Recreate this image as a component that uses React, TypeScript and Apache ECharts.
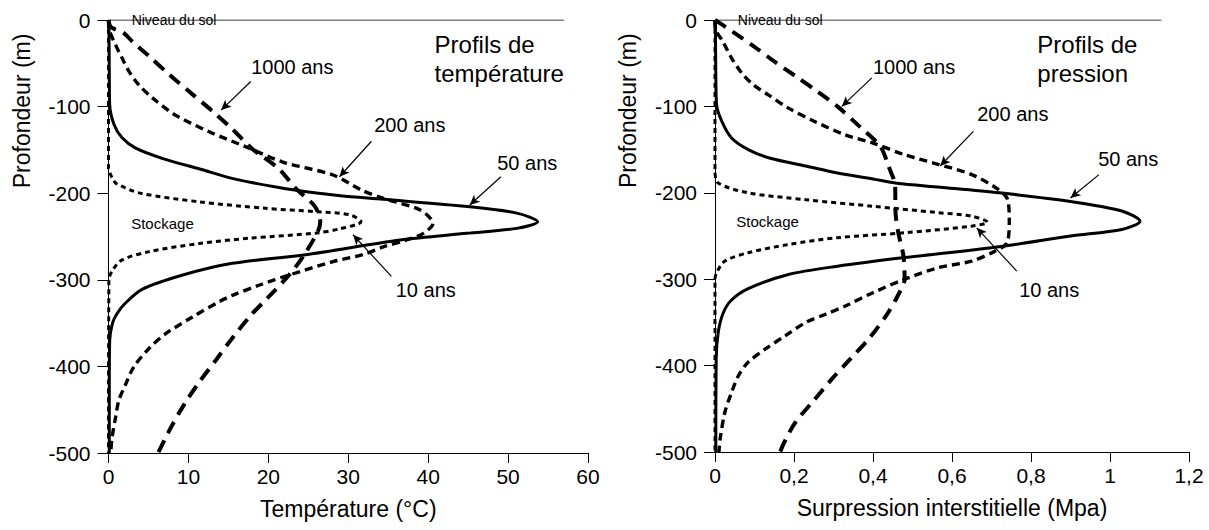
import React, { useEffect, useRef } from "react";
import * as echarts from "echarts";

// ---- Data: [value, depth (m)] ----
const temp10: number[][] = [[0,0],[0,-170],[0.5,-183],[1,-189],[4,-200],[11.4,-210],[19.7,-217.5],[26,-221.3],[30.2,-225],[31.6,-233],[29,-241],[26,-246],[17.6,-252],[11.4,-258],[5.1,-267.5],[1.7,-277],[0.5,-289],[0.05,-300],[0,-500]];
const temp50: number[][] = [[0.05,0],[0.1,-60],[0.15,-98],[0.7,-121],[1.7,-136],[3.4,-148],[6.8,-160],[11.4,-172],[16,-184],[23.7,-197],[29,-203],[34.4,-207],[45.2,-215.6],[51.1,-223],[53.7,-233],[51.1,-240.6],[44.8,-246.3],[36.5,-254],[24.7,-271],[15.5,-281],[9.3,-294.5],[4.2,-311],[2,-328],[1.0,-340],[0.5,-350],[0.15,-370],[0.1,-420],[0.1,-500]];
const temp200: number[][] = [[0,0],[0.06,-10],[0.9,-29],[1.7,-44],[2.6,-60],[3.8,-75],[5.5,-90],[8.4,-110],[12.6,-129],[17.6,-148],[21.8,-164],[28.1,-179],[31.8,-197],[34.4,-206],[39,-219.4],[40.6,-234.8],[39.4,-246.4],[37.3,-254],[34.4,-262],[31.8,-271],[28.1,-279],[22.6,-294.5],[18.9,-306],[15.5,-318],[13.9,-325],[10.5,-343],[7.2,-362],[5.1,-379],[3.2,-400],[2.2,-419.5],[1.3,-439],[0.9,-458],[0.4,-485],[0.3,-500]];
const temp1000: number[][] = [[0,0],[0.3,-8],[1.9,-15],[3,-25],[5.1,-42],[7.6,-63],[10.4,-85],[13.1,-106],[15.5,-126],[18,-149],[21.2,-171],[23.5,-195],[25.8,-215],[26.5,-233],[26.2,-244],[24.5,-271],[22.6,-294.5],[19.8,-322],[17.9,-340],[15.6,-366],[13.5,-392],[11.4,-417.6],[9.6,-442],[7.9,-469],[6.2,-500]];

const press10: number[][] = [[0,0],[0,-175],[0.008,-188.6],[0.084,-200],[0.23,-208],[0.40,-215.6],[0.565,-223],[0.65,-227],[0.69,-234],[0.65,-238.6],[0.48,-246.3],[0.31,-252],[0.186,-259.8],[0.084,-269.4],[0.025,-279],[0.004,-292.5],[0,-300],[0,-500]];
const press50: number[][] = [[0.001,0],[0.002,-60],[0.004,-98],[0.017,-117],[0.042,-136.6],[0.084,-150],[0.14,-160],[0.23,-169],[0.31,-177],[0.4,-184],[0.46,-189],[0.57,-193.5],[0.72,-200],[0.90,-210],[1.03,-221],[1.076,-233],[1.03,-242.5],[0.9,-250],[0.73,-261.8],[0.48,-275],[0.31,-285],[0.186,-294.5],[0.084,-311],[0.04,-325],[0.02,-340],[0.008,-362],[0.003,-392],[0.002,-500]];
const press200: number[][] = [[0,0],[0,-8],[0.02,-25],[0.042,-44],[0.068,-61.5],[0.097,-75],[0.135,-86.6],[0.186,-102],[0.25,-117],[0.33,-133],[0.40,-142.4],[0.48,-156],[0.565,-167],[0.65,-179],[0.717,-196],[0.741,-208],[0.745,-233],[0.739,-258],[0.709,-267.5],[0.65,-279],[0.565,-286.7],[0.48,-300],[0.40,-315.6],[0.33,-331],[0.28,-340.6],[0.23,-350],[0.177,-365.7],[0.127,-381],[0.084,-396],[0.059,-412],[0.042,-431],[0.025,-454],[0.013,-485],[0.01,-500]];
const press1000: number[][] = [[0,0],[0.02,-6],[0.046,-14],[0.1,-31],[0.15,-48],[0.204,-65],[0.26,-83],[0.31,-100],[0.363,-122],[0.418,-146],[0.44,-170],[0.456,-192],[0.457,-223],[0.464,-246],[0.477,-273],[0.48,-300],[0.464,-318],[0.435,-341],[0.392,-367.5],[0.342,-392.6],[0.295,-416],[0.249,-441],[0.203,-466],[0.173,-491],[0.165,-500]];

const tempGround: number[][] = [[0,0],[57,0]];
const pressGround: number[][] = [[0,0],[1.13,0]];

// annotations
const tempLabels = [
  { text: "1000 ans", at: [23, -54] },
  { text: "200 ans", at: [37.7, -121] },
  { text: "50 ans", at: [52.4, -165] },
  { text: "10 ans", at: [39.7, -312] },
];
const tempArrows: number[][][] = [
  [[17.8, -71], [14.1, -104]],
  [[32.9, -140], [28.9, -181]],
  [[49.1, -181], [45.2, -213.6]],
  [[35.4, -296], [30.6, -248]],
];
const pressLabels = [
  { text: "1000 ans", at: [0.504, -54] },
  { text: "200 ans", at: [0.754, -108.5] },
  { text: "50 ans", at: [1.046, -160.5] },
  { text: "10 ans", at: [0.846, -312] },
];
const pressArrows: number[][][] = [
  [[0.397, -67], [0.321, -100]],
  [[0.654, -129], [0.57, -169]],
  [[0.972, -179], [0.9, -206]],
  [[0.764, -290.6], [0.6625, -240.5]],
];

const FONT = "'Liberation Sans', Arial, sans-serif";

function curve(name: string, data: number[][], idx: number, style: any) {
  return {
    name,
    type: "line",
    xAxisIndex: idx,
    yAxisIndex: idx,
    data,
    smooth: 0.3,
    symbol: "none",
    lineStyle: { color: "#000", ...style },
    silent: true,
  };
}

function ground(data: number[][], idx: number, arrows: number[][][]) {
  return {
    type: "line",
    xAxisIndex: idx,
    yAxisIndex: idx,
    data,
    symbol: "none",
    lineStyle: { color: "#000", width: 1 },
    silent: true,
    markLine: {
      silent: true,
      symbol: ["none", "arrow"],
      symbolSize: [7, 10],
      label: { show: false },
      lineStyle: { color: "#000", width: 1.2, type: "solid" },
      data: arrows.map((a) => [{ coord: a[0] }, { coord: a[1] }]),
    },
  };
}

function xAxis(idx: number, max: number, interval: number, name: string, fmt?: (v: number) => string) {
  return {
    gridIndex: idx,
    type: "value",
    min: 0,
    max,
    interval,
    axisLine: { show: true, onZero: false, lineStyle: { color: "#000", width: 1 } },
    axisTick: { show: true, length: 10, lineStyle: { color: "#000" } },
    splitLine: { show: false },
    axisLabel: { color: "#000", fontSize: 21, margin: 13, fontFamily: FONT, formatter: fmt },
    name,
    nameLocation: "middle",
    nameGap: 44,
    nameTextStyle: { color: "#000", fontSize: 23, fontFamily: FONT },
  };
}

function yAxis(idx: number) {
  return {
    gridIndex: idx,
    type: "value",
    min: -500,
    max: 0,
    interval: 100,
    axisLine: { show: true, onZero: false, lineStyle: { color: "#000", width: 1 } },
    axisTick: { show: true, length: 11, lineStyle: { color: "#000" } },
    splitLine: { show: false },
    axisLabel: { color: "#000", fontSize: 21, margin: 18, fontFamily: FONT },
  };
}

export default function App() {
  const ref = useRef<HTMLDivElement>(null);
  useEffect(() => {
    if (!ref.current) return;
    const chart = echarts.init(ref.current, undefined, { renderer: "svg" });
    const commaFmt = (v: number) => String(Number(v.toFixed(1))).replace(".", ",");
    chart.setOption({
      animation: false,
      backgroundColor: "#fff",
      textStyle: { fontFamily: FONT },
      grid: [
        { left: 108.5, top: 20, width: 479.5, height: 433 },
        { left: 715, top: 20, width: 474, height: 432 },
      ],
      xAxis: [
        xAxis(0, 60, 10, "Température (°C)"),
        xAxis(1, 1.2, 0.2, "Surpression interstitielle (Mpa)", commaFmt),
      ],
      yAxis: [yAxis(0), yAxis(1)],
      series: [
        ground(tempGround, 0, tempArrows),
        curve("10 ans", temp10, 0, { width: 3, type: [5, 4] }),
        curve("50 ans", temp50, 0, { width: 3 }),
        curve("200 ans", temp200, 0, { width: 3.4, type: [8, 5] }),
        curve("1000 ans", temp1000, 0, { width: 4, type: [13, 8] }),
        ground(pressGround, 1, pressArrows),
        curve("10 ans", press10, 1, { width: 3, type: [5, 4] }),
        curve("50 ans", press50, 1, { width: 3 }),
        curve("200 ans", press200, 1, { width: 3.4, type: [8, 5] }),
        curve("1000 ans", press1000, 1, { width: 4, type: [13, 8] }),
      ],
    });

    const px = (g: number, p: number[]) => chart.convertToPixel({ gridIndex: g } as any, p) as number[];
    const graphics: any[] = [];
    const addText = (g: number, at: number[], text: string, size: number, extra: any = {}) => {
      const [x, y] = px(g, at);
      graphics.push({
        type: "text",
        x,
        y,
        silent: true,
        style: {
          text,
          fill: "#000",
          fontSize: size,
          fontFamily: FONT,
          textAlign: "center",
          textVerticalAlign: "middle",
          ...extra,
        },
      });
    };
    tempLabels.forEach((l) => addText(0, l.at, l.text, 20));
    pressLabels.forEach((l) => addText(1, l.at, l.text, 20));
    addText(0, [6.75, -235], "Stockage", 15);
    addText(1, [0.133, -233], "Stockage", 15);
    addText(0, [8.2, 0], "Niveau du sol", 14, { backgroundColor: "#fff", padding: [0, 3] });
    addText(1, [0.165, 0], "Niveau du sol", 14, { backgroundColor: "#fff", padding: [0, 3] });
    addText(0, [40.8, -11], "Profils de\ntempérature", 24, { textAlign: "left", textVerticalAlign: "top", lineHeight: 29 });
    addText(1, [0.816, -11], "Profils de\npression", 24, { textAlign: "left", textVerticalAlign: "top", lineHeight: 29 });
    // vertical axis titles
    [0, 1].forEach((g) => {
      const [x0] = px(g, [0, 0]);
      const [, yMid] = px(g, [0, -105]);
      graphics.push({
        type: "text",
        x: x0 - 87,
        y: yMid,
        rotation: Math.PI / 2,
        silent: true,
        style: {
          text: "Profondeur (m)",
          fill: "#000",
          fontSize: 23,
          fontFamily: FONT,
          textAlign: "center",
          textVerticalAlign: "middle",
        },
      });
    });
    chart.setOption({ graphic: graphics });
    return () => chart.dispose();
  }, []);
  return (
    <div
      ref={ref}
      style={{ position: "fixed", left: 0, top: 0, width: 1209, height: 530, background: "#fff" }}
    />
  );
}
